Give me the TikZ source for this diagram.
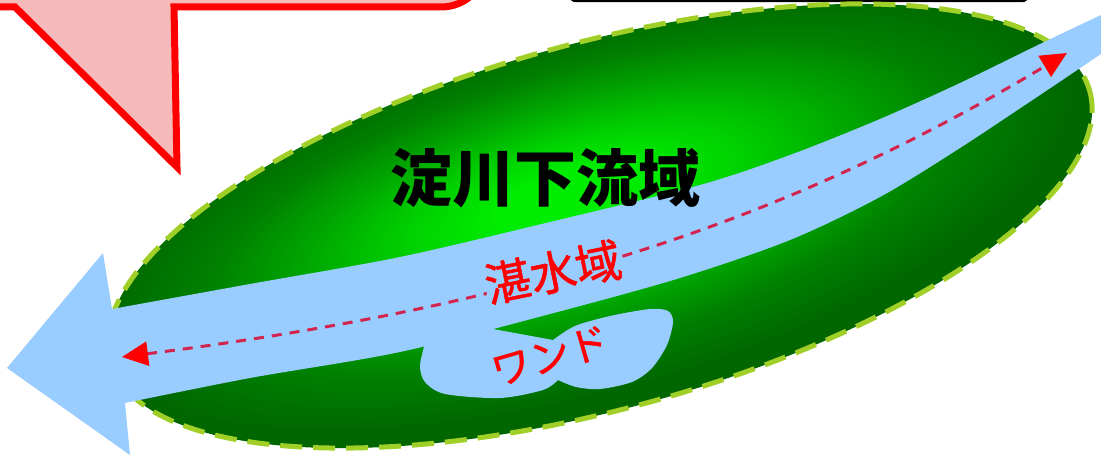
\documentclass[tikz,border=0pt]{standalone}
\usepackage{fontspec}
\newfontfamily\jp{Noto Sans CJK JP}
\newfontfamily\jpheavy[FakeBold=1.2]{Noto Sans CJK JP}
\usetikzlibrary{arrows.meta}

\definecolor{calloutpink}{RGB}{246,186,186}
\definecolor{calloutred}{RGB}{255,0,0}
\definecolor{rimgreen}{RGB}{160,208,40}
\definecolor{riverblue}{RGB}{153,204,255}
\definecolor{flowred}{RGB}{210,36,76}
\definecolor{gbright}{RGB}{0,236,0}
\definecolor{glight}{RGB}{0,205,0}
\definecolor{gmid}{RGB}{0,165,0}
\definecolor{gdark}{RGB}{0,128,0}
\definecolor{gdeep}{RGB}{0,102,0}

% soft glow for the floodplain, brightest a little above the middle
% (the path's bounding box spans -25bp..25bp of the shading)
\pgfdeclareradialshading{fieldglow}{\pgfpoint{-1bp}{5bp}}{%
  color(0bp)=(gbright); color(4bp)=(gbright); color(9bp)=(glight);
  color(14bp)=(gmid); color(19bp)=(gdark); color(25bp)=(gdeep); color(50bp)=(gdeep)}

\tikzset{
  callout/.style={line width=7pt, draw=calloutred, fill=calloutpink, line join=miter},
  framebox/.style={line width=2.5pt, draw=black, fill=white, rounded corners=6pt},
  fieldrim/.style={line width=5pt, draw=rimgreen, dash pattern=on 22pt off 11pt},
  river/.style={fill=riverblue},
  flowline/.style={draw=flowred, line width=3pt, dash pattern=on 10pt off 8pt,
    {Triangle[length=26pt,width=24pt,color=red]}-{Triangle[length=26pt,width=24pt,color=red]}},
  titletext/.style={font=\jp\bfseries\fontsize{62pt}{62pt}\selectfont, text=black},
  redtext/.style={font=\jpheavy\fontsize{46pt}{46pt}\selectfont, text=red},
}

\begin{document}
\begin{tikzpicture}[x=1pt,y=-1pt]
\useasboundingbox (0,0) rectangle (1101,457);

% speech callout, cut by the top edge
\path[callout] (-20,7) -- (15,7) -- (177,167) -- (174,7)
  {[rounded corners=46pt] -- (487,7) -- (487,-80)} -- (-20,-80) -- cycle;

% framed box, only its lower edge shows
\path[framebox] (570,-60) rectangle (1028,1);

% floodplain of the lower Yodo river
\begin{scope}[transform canvas={shift={(600,226)},rotate=15.4}]
  \shade[shading=fieldglow] (0,0) ellipse [x radius=508, y radius=183];
  \path[fieldrim] (0,0) ellipse [x radius=508, y radius=183];
\end{scope}

% river channel with its arrow head
\fill[river] (1120,6) -- plot[smooth] coordinates {(1101,15) (1040,44) (960,83) (880,119)
    (790,155) (700,185) (550,222) (400,257) (250,284) (112,309)}
  -- (103,253) -- (7,368) -- (130,455)
  -- plot[smooth] coordinates {(125,403) (250,378) (400,352) (550,314) (680,278)
    (790,240) (880,197) (960,148) (1040,95) (1101,54)}
  -- (1120,42) -- cycle;

% backwater pond beside the channel
\fill[river] (493,329) -- (553,340)
  -- plot[smooth] coordinates {(553,340) (575,326) (610,316) (650,309) (668,311)
    (673,322) (667,345) (652,368) (632,382) (600,389) (576,387) (558,380)}
  -- plot[smooth] coordinates {(558,380) (543,390) (500,398) (445,394) (425,382)
    (420,366) (425,343)}
  -- (425,338) -- cycle;

% impounded reach
\coordinate (downstream) at (122,357);
\coordinate (upstream) at (1067,53);
\draw[flowline] (downstream) .. controls (522,306) and (780,225) .. (upstream);

\node[titletext] (title) at (545,178) {淀川下流域};
\node[redtext, rotate=11.5, fill=riverblue, inner sep=0pt] (pondlabel) at (553,272) {湛水域};
\node[redtext, rotate=16, font=\jpheavy\fontsize{40pt}{40pt}\selectfont] (wandolabel) at (550,356) {ワンド};
\end{tikzpicture}
\end{document}
